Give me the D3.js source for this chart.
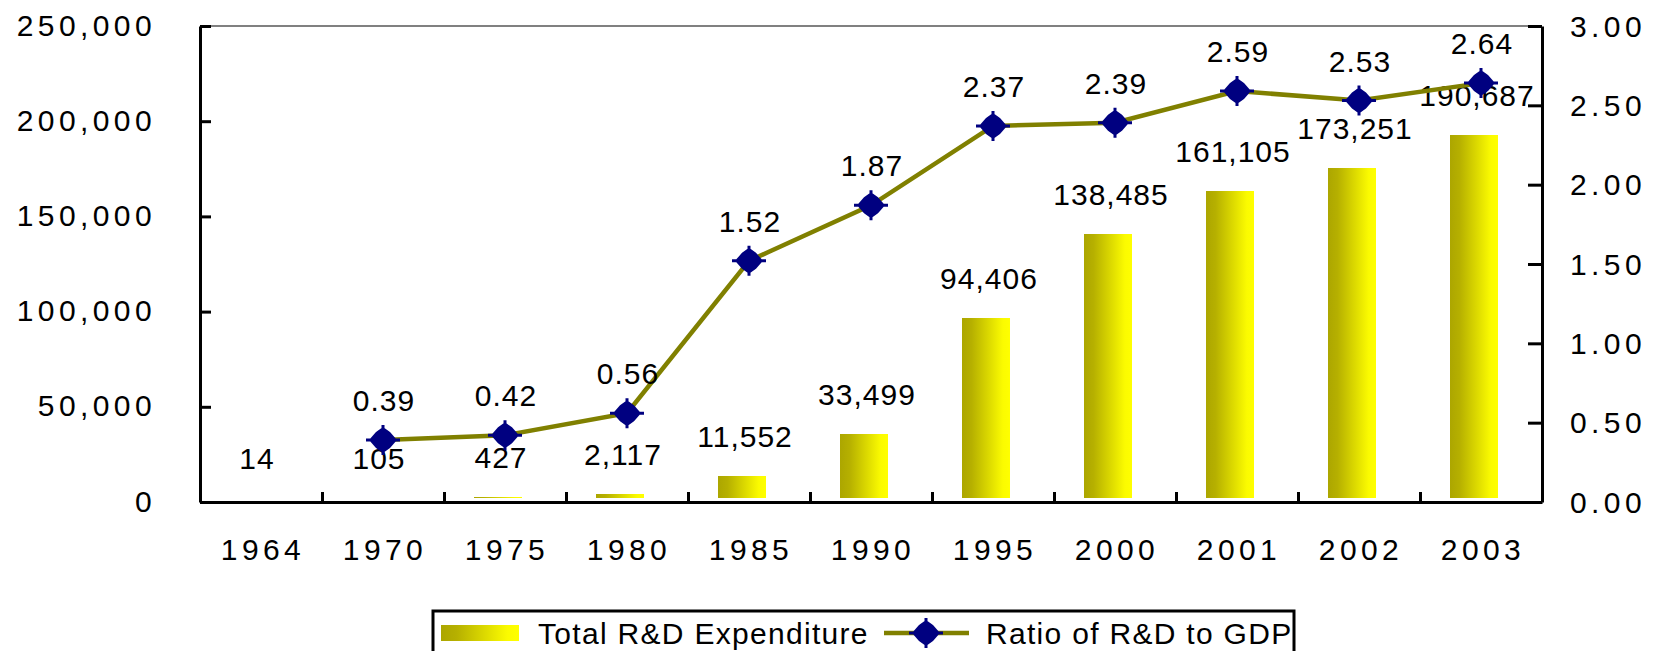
<!DOCTYPE html>
<html>
<head>
<meta charset="utf-8">
<script src="https://cdnjs.cloudflare.com/ajax/libs/d3/7.8.5/d3.min.js"></script>
<style>
    body { margin: 0; background: #fff; }
    svg { display: block; font-family: "Liberation Sans", Arial, sans-serif; }
    .axis text { font-size: 30px; letter-spacing: 4.4px; fill: #000; }
    .lbl { font-size: 30px; letter-spacing: 1px; fill: #000; }
</style>
</head>
<body>
<svg id="chart" width="1660" height="651"></svg>
<script>
// data
var years = ['1964', '1970', '1975', '1980', '1985', '1990', '1995', '2000', '2001', '2002', '2003'];
var expenditure = [14, 105, 427, 2117, 11552, 33499, 94406, 138485, 161105, 173251, 190687];
var ratio = [null, 0.39, 0.42, 0.56, 1.52, 1.87, 2.37, 2.39, 2.59, 2.53, 2.64];
var leftTicks = [0, 50000, 100000, 150000, 200000, 250000];
var rightTicks = [0, 0.5, 1, 1.5, 2, 2.5, 3];

// plot area (don't call it "top", that's window.top)
var plotLeft = 200, plotRight = 1542, plotTop = 26, plotBottom = 502;

var svg = d3.select('#chart');

// bar gradient, dark olive on the left to yellow on the right
var defs = svg.append('defs');
var grad = defs.append('linearGradient')
    .attr('id', 'barGrad')
    .attr('x1', '0%').attr('x2', '100%')
    .attr('y1', '0%').attr('y2', '0%');
grad.append('stop').attr('offset', '0%').attr('stop-color', '#aca600');
grad.append('stop').attr('offset', '20%').attr('stop-color', '#b6b000');
grad.append('stop').attr('offset', '85%').attr('stop-color', '#fbfb00');
grad.append('stop').attr('offset', '100%').attr('stop-color', '#ffff00');

// scales
var x = d3.scaleBand()
    .domain(years)
    .range([plotLeft, plotRight]);
var y = d3.scaleLinear().domain([0, 250000]).range([plotBottom, plotTop]);
var y2 = d3.scaleLinear().domain([0, 3]).range([plotBottom, plotTop]);
var xEdge = d3.scaleLinear().domain([0, years.length]).range([plotLeft, plotRight]);

// the bars sit a little left of the category centre
var barW = 48, barShift = -7, barLift = 4;
var catCenter = function (i) { return x(years[i]) + x.bandwidth() / 2; };

// top border
svg.append('line')
    .attr('x1', plotLeft).attr('x2', plotRight)
    .attr('y1', plotTop).attr('y2', plotTop)
    .attr('stroke', '#808080').attr('stroke-width', 2);

// bars (tiny ones round away to nothing like in the original)
svg.selectAll('.bar')
    .data(expenditure)
    .enter().append('rect')
    .attr('class', 'bar')
    .attr('x', function (d, i) { return catCenter(i) + barShift - barW / 2; })
    .attr('width', barW)
    .attr('y', function (d) { return plotBottom - barLift - Math.round(plotBottom - y(d)); })
    .attr('height', function (d) { return Math.round(plotBottom - y(d)); })
    .attr('fill', 'url(#barGrad)');

// left axis
var yAxis = svg.append('g')
    .attr('class', 'axis')
    .attr('transform', 'translate(' + plotLeft + ',0)')
    .call(d3.axisLeft(y).tickValues(leftTicks).tickSize(-11).tickSizeOuter(0).tickPadding(44).tickFormat(d3.format(',')));
yAxis.selectAll('text').attr('dy', '9px');

// right axis
var y2Axis = svg.append('g')
    .attr('class', 'axis')
    .attr('transform', 'translate(' + plotRight + ',0)')
    .call(d3.axisRight(y2).tickValues(rightTicks).tickSize(-14).tickSizeOuter(0).tickPadding(28).tickFormat(d3.format('.2f')));
y2Axis.selectAll('text').attr('dy', '10px');

// bottom axis: ticks on category edges, labels under the centres
svg.append('g')
    .attr('class', 'axis')
    .attr('transform', 'translate(0,' + plotBottom + ')')
    .call(d3.axisBottom(xEdge).tickValues(d3.range(1, years.length)).tickSize(-10).tickSizeOuter(0).tickFormat(''));
var xAxis = svg.append('g')
    .attr('class', 'axis')
    .attr('transform', 'translate(2,' + plotBottom + ')')
    .call(d3.axisBottom(x).tickSize(0).tickSizeOuter(0));
xAxis.select('.domain').remove();
xAxis.selectAll('text').attr('y', 58).attr('dy', null);

svg.selectAll('.axis .domain, .axis line')
    .attr('stroke', '#000').attr('stroke-width', 3);

// bar value labels
svg.selectAll('.barLbl')
    .data(expenditure)
    .enter().append('text')
    .attr('class', 'lbl barLbl')
    .attr('text-anchor', 'middle')
    .attr('x', function (d, i) { return catCenter(i) + barShift + 3; })
    .attr('y', function (d) { return y(d) - barLift - 29; })
    .text(function (d) { return d3.format(',')(d); });

// ratio line
var pts = ratio.map(function (r, i) { return { r: r, i: i }; }).filter(function (d) { return d.r != null; });
var line = d3.line()
    .x(function (d) { return catCenter(d.i); })
    .y(function (d) { return y2(d.r); });
svg.append('path')
    .datum(pts)
    .attr('d', line)
    .attr('fill', 'none')
    .attr('stroke', '#808000')
    .attr('stroke-width', 4.5);

// fat diamond marker with thin spikes
var markerPath = 'M-14,0L-7,-8L0,-13L7,-8L14,0L7,8L0,13L-7,8Z M-17,-1.5H17V1.5H-17Z M-1.5,-15H1.5V15H-1.5Z';
svg.selectAll('.mk')
    .data(pts)
    .enter().append('path')
    .attr('class', 'mk')
    .attr('d', markerPath)
    .attr('transform', function (d) { return 'translate(' + catCenter(d.i) + ',' + y2(d.r) + ')'; })
    .attr('fill', '#000080');

svg.selectAll('.rLbl')
    .data(pts)
    .enter().append('text')
    .attr('class', 'lbl rLbl')
    .attr('text-anchor', 'middle')
    .attr('x', function (d) { return catCenter(d.i) + 1; })
    .attr('y', function (d) { return y2(d.r) - 29; })
    .text(function (d) { return d3.format('.2f')(d.r); });

// legend
var legend = svg.append('g');
legend.append('rect')
    .attr('x', 433).attr('y', 611)
    .attr('width', 861).attr('height', 70)
    .attr('fill', '#fff').attr('stroke', '#000').attr('stroke-width', 3);
legend.append('rect')
    .attr('x', 441).attr('y', 625)
    .attr('width', 78).attr('height', 16)
    .attr('fill', 'url(#barGrad)');
legend.append('text')
    .attr('class', 'lbl')
    .attr('x', 538).attr('y', 644)
    .style('letter-spacing', '1.3px')
    .text('Total R&D Expenditure');
legend.append('line')
    .attr('x1', 884).attr('x2', 969)
    .attr('y1', 633).attr('y2', 633)
    .attr('stroke', '#808000').attr('stroke-width', 4.5);
legend.append('path')
    .attr('d', markerPath)
    .attr('transform', 'translate(926,633)')
    .attr('fill', '#000080');
legend.append('text')
    .attr('class', 'lbl')
    .attr('x', 986).attr('y', 644)
    .style('letter-spacing', '1.3px')
    .text('Ratio of R&D to GDP');
</script>
</body>
</html>
